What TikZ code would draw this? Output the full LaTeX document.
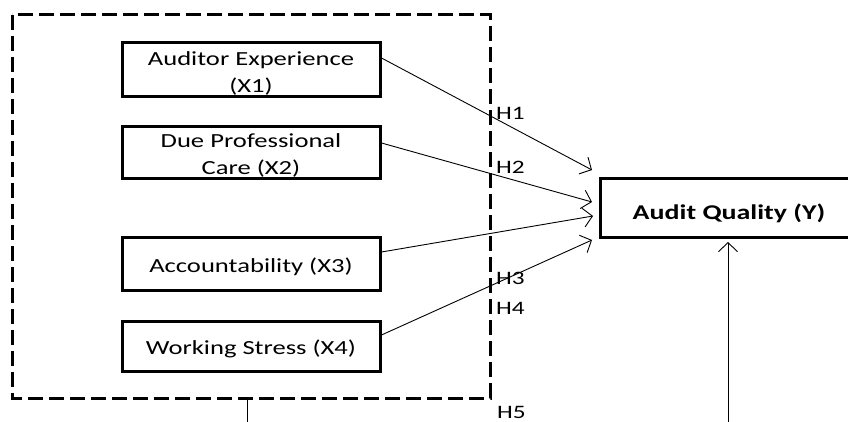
\documentclass[tikz,border=0pt]{standalone}
\usepackage{fontspec}
\setmainfont[FakeStretch=1.33]{Carlito}
\usetikzlibrary{arrows.meta}
\begin{document}
\begin{tikzpicture}[x=1pt,y=-1pt,
  vbox/.style={draw,line width=3pt,inner sep=0pt},
  txt/.style={anchor=base,inner sep=0pt,font=\fontsize{20}{24}\selectfont},
  hlab/.style={anchor=base west,inner sep=0pt,font=\fontsize{19}{22}\selectfont},
  arr/.style={line width=0.9pt,-{Straight Barb[length=9pt,width=19pt,line width=0.9pt]}},
  frame/.style={line width=3pt,dash pattern=on 15pt off 6pt}]
\useasboundingbox (0,0) rectangle (848,422);
\fill[white] (0,0) rectangle (848,422);
% dashed frame
\draw[frame] (12,15) rectangle (490,398);
% variable boxes
\node[vbox,minimum width=258pt,minimum height=54pt] (x1) at (251,70) {};
\node[vbox,minimum width=258pt,minimum height=52pt] (x2) at (251,153) {};
\node[vbox,minimum width=258pt,minimum height=53pt] (x3) at (251,263.5) {};
\node[vbox,minimum width=258pt,minimum height=50pt] (x4) at (251,346) {};
\node[txt] (x1a) at (251,66) {Auditor Experience};
\node[txt] (x1b) at (251,93) {(X1)};
\node[txt] (x2a) at (251,148) {Due Professional};
\node[txt] (x2b) at (251,175) {Care (X2)};
\node[txt] (x3a) at (251,272) {Accountability (X3)};
\node[txt] (x4a) at (251,354) {Working Stress (X4)};
% dependent
\draw[line width=3pt] (852,178.5) -- (600,178.5) -- (600,237) -- (852,237);
\node[inner sep=0pt,minimum width=250pt,minimum height=58pt] (y) at (725,207.5) {};
\node[txt,font=\fontsize{21}{24}\bfseries\selectfont] (yt) at (729,219) {Audit Quality (Y)};
% arrows
\coordinate (t1) at (592,170);
\coordinate (t2) at (592,202);
\coordinate (t3) at (593,216);
\coordinate (t4) at (592,240);
\draw[arr] (x1.east |- 0,58) -- (t1);
\draw[arr] (x2.east |- 0,143) -- (t2);
\draw[arr] (x3.east |- 0,252) -- (t3);
\draw[arr] (x4.east |- 0,335) -- (t4);
\coordinate (mb) at (247,398);
\coordinate (mbe) at (247,424);
\draw[line width=0.9pt] (mb) -- (mbe);
\coordinate (yb) at (728,424);
\draw[arr] (yb) -- (728,242);
% labels
\node[hlab] (h1) at (496,120) {H1};
\node[hlab] (h2) at (496,174) {H2};
\node[hlab] (h3) at (496,284) {H3};
\node[hlab] (h4) at (496,314) {H4};
\node[hlab] (h5) at (497,418) {H5};
\end{tikzpicture}
\end{document}
